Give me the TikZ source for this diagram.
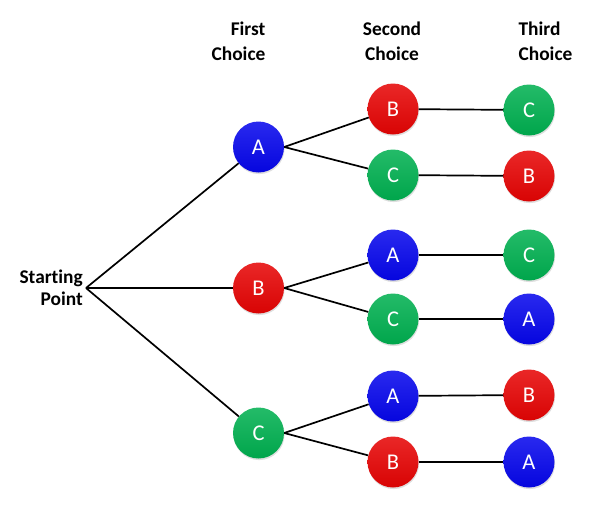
\documentclass[tikz,border=0pt]{standalone}
\usepackage{fontspec}
\setmainfont{Carlito}[Ligatures=NoCommon]
\usetikzlibrary{shadows}

\definecolor{ballblue}{RGB}{6,6,236}
\definecolor{ballred}{RGB}{230,4,4}
\definecolor{ballgreen}{RGB}{0,176,80}

\begin{document}
\begin{tikzpicture}[
    x=1pt, y=-1pt,
    ball/.style={circle, minimum size=51pt, inner sep=0pt, text=white,
      font=\fontsize{22.5}{22.5}\selectfont,
      top color=#1!86!white, bottom color=#1!94!black,
      drop shadow={opacity=0.25, shadow xshift=0.6pt, shadow yshift=-1.6pt}},
    head/.style={font=\fontsize{19.4}{25}\selectfont\bfseries},
    branch/.style={line width=1.7pt}
  ]
  \useasboundingbox (0,0) rectangle (597,504);

  % Headings
  \node[head, align=right] (h1) at (238.5,41) {First\\Choice};
  \node[head, align=center] (h2) at (392,41) {Second\\Choice};
  \node[head, align=left] (h3) at (545.5,41) {Third\\Choice};
  \node[font=\fontsize{19.4}{21.7}\selectfont\bfseries, align=right,
    inner sep=3pt, anchor=east] (start) at (86,288) {Starting\\Point};

  % First choice
  \node[ball=ballblue] (fa) at (258.5,147) {A};
  \node[ball=ballred] (fb) at (258.5,288) {B};
  \node[ball=ballgreen] (fc) at (258.5,433) {C};

  % Second choice
  \node[ball=ballred] (sab) at (393,109) {B};
  \node[ball=ballgreen] (sac) at (393,175) {C};
  \node[ball=ballblue] (sba) at (393,255) {A};
  \node[ball=ballgreen] (sbc) at (393,319) {C};
  \node[ball=ballblue] (sca) at (393,396) {A};
  \node[ball=ballred] (scb) at (393,462) {B};

  % Third choice
  \node[ball=ballgreen] (tabc) at (529,110) {C};
  \node[ball=ballred] (tacb) at (529,176) {B};
  \node[ball=ballgreen] (tbac) at (529,255) {C};
  \node[ball=ballblue] (tbca) at (529,319) {A};
  \node[ball=ballred] (tcab) at (529,395) {B};
  \node[ball=ballblue] (tcba) at (529,462) {A};

  % Branches
  \draw[branch] (start.east) -- (fa);
  \draw[branch] (start.east) -- (fb);
  \draw[branch] (start.east) -- (fc);
  \draw[branch] (fa.east) -- (sab);
  \draw[branch] (fa.east) -- (sac);
  \draw[branch] (fb.east) -- (sba);
  \draw[branch] (fb.east) -- (sbc);
  \draw[branch] (fc.east) -- (sca);
  \draw[branch] (fc.east) -- (scb);
  \draw[branch] (sab) -- (tabc);
  \draw[branch] (sac) -- (tacb);
  \draw[branch] (sba) -- (tbac);
  \draw[branch] (sbc) -- (tbca);
  \draw[branch] (sca) -- (tcab);
  \draw[branch] (scb) -- (tcba);
\end{tikzpicture}
\end{document}
